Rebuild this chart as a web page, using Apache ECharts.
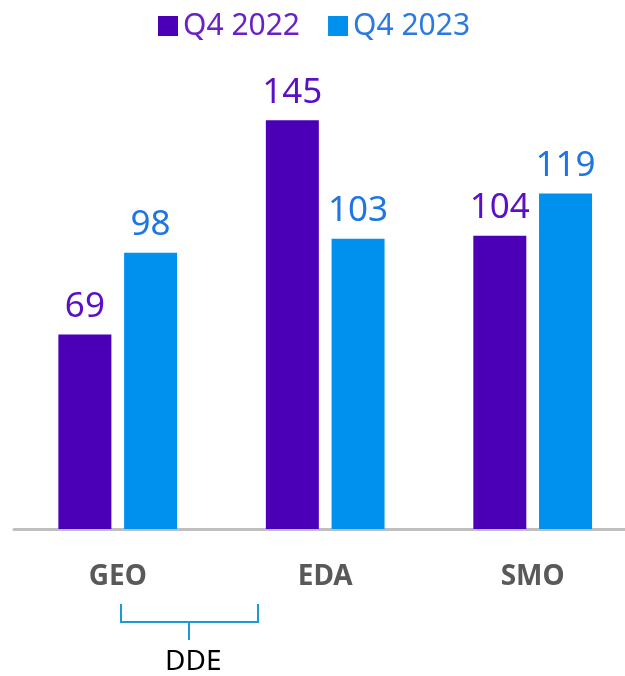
<!DOCTYPE html>
<html>
<head>
<meta charset="utf-8">
<script src="https://cdn.jsdelivr.net/npm/echarts@6/dist/echarts.min.js"></script>
<style>
  html, body { margin: 0; padding: 0; background: #fff; }
  #chart { width: 625px; height: 676px; }
</style>
</head>
<body>
<div id="chart"></div>
<script>
  // data
  var categories = ['GEO', 'EDA', 'SMO'];
  var seriesNames = ['Q4 2022', 'Q4 2023'];
  var q4_2022 = [69, 145, 104];
  var q4_2023 = [98, 103, 119];

  var FONT = "'Noto Sans', 'Open Sans', sans-serif";
  var purple = '#4b00b8', blue = '#0091ef';
  var purpleText = '#5a10c6', blueText = '#1f76e2';

  // category index -> x position on a value axis (lets the last band run off the right edge)
  function pairs(values) {
    return values.map(function (v, i) { return [i, v]; });
  }

  var myChart = echarts.init(document.getElementById('chart'));

  var option = {
    animation: false,
    textStyle: { fontFamily: FONT },
    legend: {
      left: 153,
      top: 6,
      icon: 'rect',
      itemWidth: 20,
      itemHeight: 20,
      itemGap: 28,
      textStyle: { fontSize: 30, fontFamily: FONT },
      data: [
        { name: seriesNames[0], textStyle: { color: '#6a22c8' } },
        { name: seriesNames[1], textStyle: { color: '#2a7ae2' } }
      ]
    },
    grid: {
      left: 14,
      right: 0,
      top: 78,
      bottom: 147,
      containLabel: false
    },
    xAxis: {
      type: 'value',
      min: -0.5,
      max: 2.445,
      splitLine: { show: false },
      axisLine: { show: true, onZero: false, lineStyle: { color: '#bfbfbf', width: 3 } },
      axisTick: { show: false },
      axisLabel: {
        customValues: [0, 1, 2],
        formatter: function (v) { return categories[Math.round(v)]; },
        margin: 34,
        fontSize: 28,
        fontWeight: 'bold',
        color: '#595959',
        fontFamily: FONT
      }
    },
    yAxis: {
      type: 'value',
      min: 0,
      max: 160,
      show: false,
      splitLine: { show: false }
    },
    series: [
      {
        name: seriesNames[0],
        type: 'bar',
        data: pairs(q4_2022),
        barWidth: 53,
        barGap: '24%',
        itemStyle: { color: purple },
        label: {
          show: true,
          position: 'top',
          distance: 10,
          fontSize: 35,
          color: purpleText,
          fontFamily: FONT,
          formatter: function (p) { return p.value[1]; }
        }
      },
      {
        name: seriesNames[1],
        type: 'bar',
        data: pairs(q4_2023),
        barWidth: 53,
        barGap: '24%',
        itemStyle: { color: blue },
        label: {
          show: true,
          position: 'top',
          distance: 10,
          fontSize: 35,
          color: blueText,
          fontFamily: FONT,
          formatter: function (p) { return p.value[1]; }
        }
      }
    ],
    graphic: [
      {
        // bracket grouping GEO and EDA
        type: 'polyline',
        shape: { points: [[121, 604], [121, 622], [258, 622], [258, 604]] },
        style: { stroke: '#1b9ad6', lineWidth: 2, fill: null }
      },
      {
        type: 'line',
        shape: { x1: 189, y1: 622, x2: 189, y2: 640 },
        style: { stroke: '#1b9ad6', lineWidth: 2 }
      },
      {
        type: 'text',
        left: 165,
        top: 648,
        style: { text: 'DDE', fontSize: 28, fill: '#000', fontFamily: FONT }
      }
    ]
  };

  myChart.setOption(option);
</script>
</body>
</html>
